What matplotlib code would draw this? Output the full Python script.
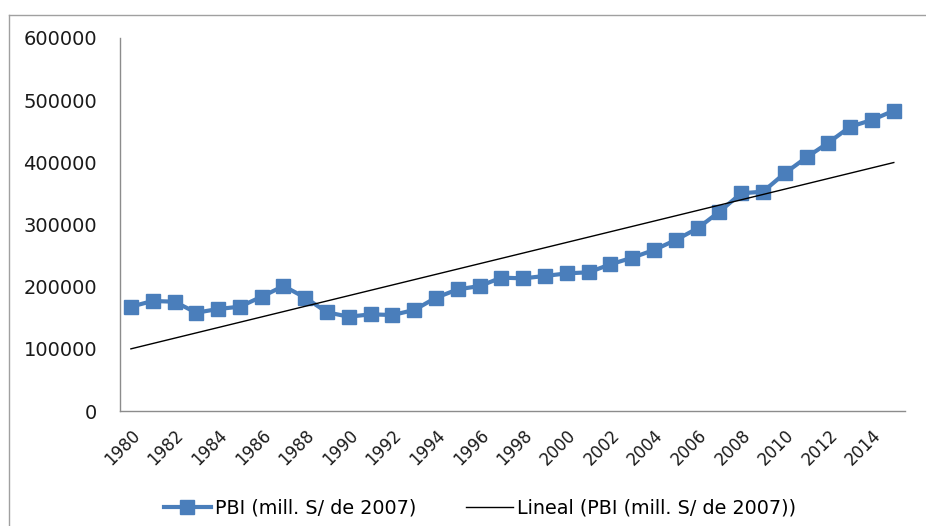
import numpy as np
import matplotlib
matplotlib.use('Agg')
import matplotlib.pyplot as plt
from matplotlib.lines import Line2D

# PBI series (mill. S/ de 2007)
years = list(range(1980, 2016))
pbi = [167800, 177000, 175800, 158100, 164100, 167800, 183900, 201000,
       182300, 158700, 151700, 155500, 154400, 162500, 182300, 195700,
       201000, 214500, 213400, 217200, 221400, 223100, 235900, 246600,
       259000, 275100, 293900, 320600, 350200, 352800, 382400, 408100,
       431600, 457300, 468100, 483100]
yticks = [0, 100000, 200000, 300000, 400000, 500000, 600000]
xlabels = [str(y) for y in range(1980, 2016, 2)]

fig = plt.figure(figsize=(9.26, 5.26), dpi=100)
ax = fig.add_axes([0.1296, 0.2186, 0.977 - 0.1296, 0.9278 - 0.2186])

x = np.arange(len(years))
ax.plot(x, pbi, color='#4A7EBB', lw=3, marker='s', ms=10,
        label='PBI (mill. S/ de 2007)')
coef = np.polyfit(x, pbi, 1)
ax.plot(x, np.polyval(coef, x), color='black', lw=1,
        label='Lineal (PBI (mill. S/ de 2007))')

ax.set_xlim(-0.5, len(years) - 0.5)
ax.set_ylim(0, 600000)
ax.set_yticks(yticks)
ax.set_yticklabels([str(v) for v in yticks], fontsize=14, color='#1a1a1a')
ax.set_xticks(x[::2])
ax.set_xticklabels(xlabels, rotation=45, ha='right', rotation_mode='anchor',
                   fontsize=12, color='#1a1a1a')
ax.tick_params(axis='y', length=0, pad=16.5)
ax.tick_params(axis='x', length=0, pad=11)
for s in ['top', 'right']:
    ax.spines[s].set_visible(False)
for s in ['left', 'bottom']:
    ax.spines[s].set_color('#8c8c8c')
    ax.spines[s].set_linewidth(1)

leg = ax.legend(loc='center', bbox_to_anchor=(0.4587, -0.26), ncol=2,
                frameon=False, prop={'size': 13.8},
                handlelength=2.45, columnspacing=2.6, handletextpad=0.2,
                borderaxespad=0, borderpad=0)

# outer chart frame
fig.add_artist(Line2D([9 / 926, 1.0], [1 - 15 / 526, 1 - 15 / 526],
                      color='#a0a0a0', lw=1))
fig.add_artist(Line2D([9 / 926, 9 / 926], [0, 1 - 15 / 526],
                      color='#a0a0a0', lw=1))

fig.savefig('out.png', dpi=100)
